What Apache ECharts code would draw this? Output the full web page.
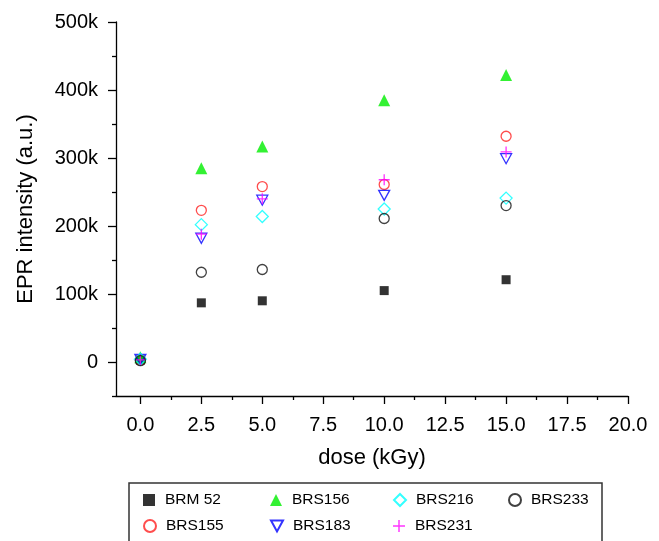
<!DOCTYPE html>
<html><head><meta charset="utf-8">
<script src="https://cdn.jsdelivr.net/npm/echarts@6/dist/echarts.min.js"></script>
<style>html,body{margin:0;padding:0;background:#fff}#c{width:659px;height:541px}</style>
</head><body><div id="c"></div>
<script>
const doses = [0, 2.5, 5, 10, 15];
const BRM52  = [3, 87, 90, 105, 121];
const BRS156 = [7, 285, 317, 385, 422];
const BRS216 = [4, 202, 214, 225, 241];
const BRS233 = [2, 132, 136, 211, 230];
const BRS155 = [3, 223, 258, 261, 332];
const BRS183 = [4, 182, 238, 245, 299];
const BRS231 = [3, 188, 240, 268, 309];
const xMajor = [0, 2.5, 5, 7.5, 10, 12.5, 15, 17.5, 20];
const xMinor = [1.25, 3.75, 6.25, 8.75, 11.25, 13.75, 16.25, 18.75];
const yMajor = [0, 100, 200, 300, 400, 500];
const yMinor = [-50, 50, 150, 250, 350, 450];

const FONT = 'Liberation Sans, Arial, sans-serif';
const pts = arr => arr.map((v, i) => [doses[i], v]);
const hollow = c => ({color: 'rgba(0,0,0,0)', borderColor: c, borderWidth: 1.3});

const seriesDefs = [
  {name: 'BRM 52', data: BRM52, symbol: 'rect', size: 9, itemStyle: {color: '#000'}},
  {name: 'BRS155', data: BRS155, symbol: 'circle', size: 10, itemStyle: hollow('#ff2020')},
  {name: 'BRS156', data: BRS156, symbol: 'triangle', size: 12, itemStyle: {color: '#00ee00'}},
  {name: 'BRS183', data: BRS183, symbol: 'path://M0,0 L10,0 L5,9 Z', size: [11, 10], itemStyle: hollow('#0000ff')},
  {name: 'BRS216', data: BRS216, symbol: 'diamond', size: 12, itemStyle: hollow('#00ffff')},
  {name: 'BRS231', data: BRS231, symbol: 'path://M4.4,0h1.2v10h-1.2z M0,4.4h10v1.2h-10z', size: 11, itemStyle: {color: '#ff00ff'}},
  {name: 'BRS233', data: BRS233, symbol: 'circle', size: 10, itemStyle: hollow('#111')}
];

const series = seriesDefs.map(s => ({
  type: 'scatter', name: s.name, data: pts(s.data), symbol: s.symbol,
  symbolSize: s.size, itemStyle: s.itemStyle, xAxisIndex: 0, yAxisIndex: 0,
  emphasis: {disabled: true}
}));

const legendPos = {
  'BRM 52': [143, 492], 'BRS155': [143, 518],
  'BRS156': [270, 492], 'BRS183': [270, 518],
  'BRS216': [393, 492], 'BRS231': [393, 518],
  'BRS233': [508, 492]
};
const legends = seriesDefs.map(s => ({
  data: [s.name], left: legendPos[s.name][0], top: legendPos[s.name][1],
  itemWidth: 12, itemHeight: 12, padding: 0, selectedMode: false,
  textStyle: {fontFamily: FONT, fontSize: 15.5, color: '#000', padding: [0, 0, 0, 5]}
}));

const tickStyle = {color: '#000', width: 1.3};
function tickAxis(min, max, pos, vals, len) {
  return {
    type: 'value', min: min, max: max, position: pos,
    axisLine: {show: false, onZero: false},
    axisTick: {show: true, inside: false, length: len, customValues: vals, lineStyle: tickStyle},
    axisLabel: {show: false}, splitLine: {show: false}
  };
}

const option = {
  animation: false,
  backgroundColor: '#fff',
  grid: {left: 116, right: 31, top: 22, bottom: 145},
  xAxis: [{
    type: 'value', min: -1, max: 20, position: 'bottom',
    name: 'dose (kGy)', nameLocation: 'middle', nameGap: 51,
    nameTextStyle: {fontFamily: FONT, fontSize: 22, color: '#000'},
    axisLine: {show: true, onZero: false, lineStyle: {color: '#000', width: 1.3}},
    axisTick: {show: false},
    axisLabel: {customValues: xMajor, formatter: v => v.toFixed(1), margin: 19, fontFamily: FONT, fontSize: 20, color: '#000'},
    splitLine: {show: false}
  }, tickAxis(-1, 20, 'bottom', xMajor, 8), tickAxis(-1, 20, 'bottom', xMinor, 4)],
  yAxis: [{
    type: 'value', min: -50, max: 500, position: 'left',
    name: 'EPR intensity (a.u.)', nameLocation: 'middle', nameGap: 79,
    nameTextStyle: {fontFamily: FONT, fontSize: 22, color: '#000'},
    axisLine: {show: true, onZero: false, lineStyle: {color: '#000', width: 1.3}},
    axisTick: {show: false},
    axisLabel: {customValues: yMajor, formatter: v => v === 0 ? '0' : v + 'k', margin: 18, fontFamily: FONT, fontSize: 20, color: '#000'},
    splitLine: {show: false}
  }, tickAxis(-50, 500, 'left', yMajor, 8), tickAxis(-50, 500, 'left', yMinor, 4)],
  legend: legends,
  graphic: [{
    type: 'rect', silent: true,
    shape: {x: 129, y: 483, width: 473, height: 80},
    style: {fill: 'none', stroke: '#333', lineWidth: 1.5}
  }],
  series: series
};
const chart = echarts.init(document.getElementById('c'), null, {renderer: 'canvas'});
chart.setOption(option);
</script></body></html>
